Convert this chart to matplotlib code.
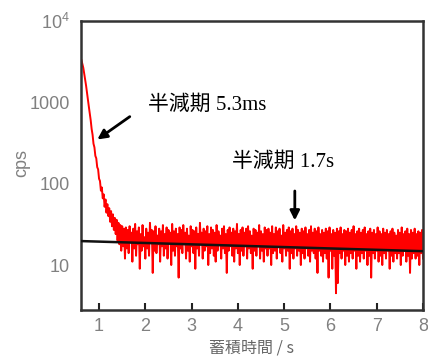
import matplotlib
matplotlib.use('Agg')
import matplotlib.pyplot as plt
from matplotlib import font_manager
import numpy as np

# data: count rate (cps) sampled every 0.02 s from 0.62 s to 8.0 s
t_start = 0.62
t_step = 0.02
cps = [
    3300, 2950, 2650, 2250, 1900, 1600, 1300, 1070, 880, 720,
    600, 470, 400, 310, 280, 220, 205, 160, 150, 115,
    108, 82, 90, 66, 74, 52, 64, 44, 56, 40,
    50, 34, 46, 30, 42, 27, 38, 24, 36, 20,
    33, 18, 31, 15, 30, 17, 28, 12, 29, 16,
    27, 14, 30, 19, 25, 11, 28, 16, 32, 13,
    26, 18, 29, 9, 24, 15, 31, 17, 22, 12,
    28, 16, 25, 13, 33, 19, 27, 8, 26, 15,
    30, 14, 23, 18, 28, 11, 26, 17, 31, 13,
    24, 16, 29, 12, 27, 19, 25, 10, 32, 15,
    26, 13, 28, 17, 24, 7, 29, 16, 27, 14,
    31, 18, 25, 12, 28, 15, 23, 11, 30, 17,
    27, 14, 26, 9, 29, 16, 24, 13, 33, 18,
    25, 12, 28, 15, 26, 17, 30, 10, 24, 14,
    29, 16, 27, 13, 25, 11, 31, 15, 26, 18,
    23, 12, 28, 16, 30, 14, 24, 8, 27, 15,
    29, 17, 25, 13, 28, 11, 26, 16, 32, 14,
    24, 10, 27, 15, 29, 13, 25, 17, 28, 12,
    30, 16, 26, 14, 23, 9, 28, 15, 27, 13,
    25, 17, 31, 12, 26, 15, 24, 11, 29, 16,
    27, 13, 28, 16, 25, 10, 30, 14, 24, 15,
    29, 12, 26, 17, 28, 14, 23, 11, 31, 16,
    25, 13, 27, 15, 29, 9, 26, 14, 28, 12,
    24, 16, 30, 13, 27, 15, 25, 10, 28, 14,
    26, 12, 29, 16, 24, 13, 27, 11, 30, 15,
    25, 14, 28, 12, 26, 8, 29, 15, 24, 13,
    27, 11, 25, 14, 28, 12, 26, 7, 29, 15,
    24, 9, 27, 13, 25, 4.5, 28, 6, 26, 14,
    29, 12, 24, 15, 27, 10, 26, 13, 28, 11,
    25, 14, 27, 12, 30, 15, 24, 9, 26, 13,
    28, 11, 25, 14, 27, 12, 29, 15, 24, 10,
    26, 13, 28, 7, 25, 14, 27, 12, 24, 15,
    29, 11, 26, 13, 24, 10, 28, 14, 25, 12,
    27, 15, 24, 9, 26, 13, 28, 11, 25, 14,
    23, 12, 27, 14, 25, 10, 29, 13, 24, 15,
    26, 11, 28, 13, 24, 8, 27, 12, 25, 14,
    28, 12, 24, 13, 26, 10, 25, 14, 27, 12,
]

# slow-component fit line (black)
fit_t = [0.61, 8.0]
fit_cps = [19.7, 14.8]

x_ticks = [1, 2, 3, 4, 5, 6, 7, 8]
y_ticks = [10, 100, 1000, 10000]
y_ticklabels = ['10', '100', '1000', '$10^4$']

note1 = '半減期 5.3ms'
note2 = '半減期 1.7s'

t = t_start + t_step * np.arange(len(cps))

names = {f.name for f in font_manager.fontManager.ttflist}
tick_font = 'Liberation Sans Narrow' if 'Liberation Sans Narrow' in names else 'Liberation Sans'
gray = '#808080'

plt.rcParams['mathtext.fontset'] = 'custom'
plt.rcParams['mathtext.rm'] = tick_font

fig = plt.figure(figsize=(4.28, 3.58), dpi=100)
ax = fig.add_axes([81/428, 1 - 310/358, (423 - 81)/428, (310 - 21)/358])

# thick red trace so the noisy signal reads as a dense band
ax.plot(t, cps, color='#ff0000', lw=1.4, zorder=2)
ax.plot(fit_t, fit_cps, color='#111111', lw=1.8, zorder=3)

ax.set_yscale('log')
ax.set_xlim(0.61, 8.0)
ax.set_ylim(2.8, 10000)

ax.set_xticks(x_ticks)
ax.set_xticklabels([str(v) for v in x_ticks], fontfamily=tick_font, fontsize=13, color=gray)
ax.set_yticks(y_ticks)
ax.set_yticklabels(y_ticklabels, fontfamily=tick_font, fontsize=13, color=gray)
ax.minorticks_off()
ax.tick_params(axis='x', direction='in', length=5, width=1.5, color='#222222', pad=6)
ax.tick_params(axis='y', length=0, pad=8)

for s in ax.spines.values():
    s.set_linewidth(1.8)
    s.set_color('#333333')

ann_font = ['Liberation Serif', 'Noto Sans CJK JP']
ax.text(2.06, 927, note1, family=ann_font, fontsize=15, va='center', ha='left')
ax.annotate('', xy=(0.914, 334), xytext=(1.713, 698),
            arrowprops=dict(arrowstyle='-|>', color='black', lw=2, mutation_scale=14))
ax.text(3.87, 185, note2, family=ann_font, fontsize=15, va='center', ha='left')
ax.annotate('', xy=(5.23, 32.7), xytext=(5.23, 88),
            arrowprops=dict(arrowstyle='-|>', color='black', lw=2, mutation_scale=14))

fig.text(252/428, 1 - 348/358, '蓄積時間 / s', family=['Noto Sans CJK JP', 'DejaVu Sans'],
         fontsize=11.5, color='#666666', ha='center', va='center')
fig.text(22/428, 1 - 163/358, 'cps', family=tick_font, fontsize=13, color=gray,
         rotation=90, ha='center', va='center')

fig.savefig('out.png', dpi=100)
